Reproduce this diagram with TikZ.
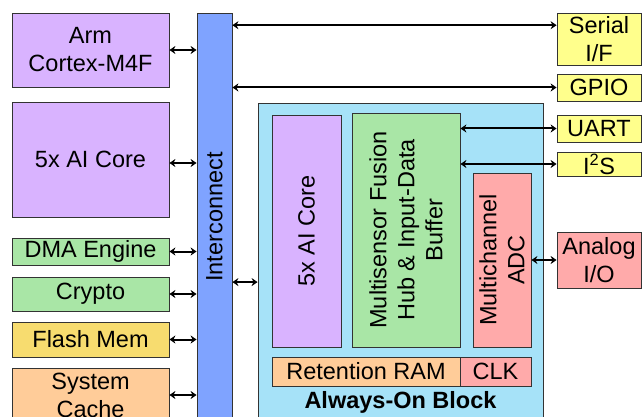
\documentclass[tikz,border=0pt]{standalone}
\usepackage{fontspec}
\setmainfont{Liberation Sans}
\usetikzlibrary{arrows.meta, positioning}
\definecolor{ChipPurple}{HTML}{D9B3FF}
\definecolor{ChipGreen}{HTML}{A9E6A6}
\definecolor{ChipGold}{HTML}{F7DC6F}
\definecolor{ChipOrange}{HTML}{FFCC99}
\definecolor{ChipBlue}{HTML}{7FA3FF}
\definecolor{ChipSky}{HTML}{A6E2F8}
\definecolor{ChipPink}{HTML}{FFAAAA}
\definecolor{ChipYellow}{HTML}{FFFF8C}
\definecolor{ChipDark}{HTML}{333333}

\begin{document}
\begin{tikzpicture}[
      x=1pt, y=-1pt,
      font=\fontsize{23.5}{28}\selectfont,
      block/.style={draw=ChipDark, line width=0.8pt, inner sep=0pt, align=center},
      vtext/.style={rotate=90, align=center, inner sep=0pt},
      flow/.style={{Stealth[length=6pt,width=8pt]}-{Stealth[length=6pt,width=8pt]}, line width=2pt},
    ]
      \clip (0,0) rectangle (642,417);

      % left column
      \node[block, fill=ChipPurple, minimum width=157, minimum height=74] (arm) at (90.5,50) {Arm\\Cortex-M4F};
      \node[block, fill=ChipPurple, minimum width=157, minimum height=115] (aicore) at (90.5,159.5) {5x AI Core};
      \node[block, fill=ChipGreen, minimum width=157, minimum height=27] (dma) at (90.5,251.5) {DMA Engine};
      \node[block, fill=ChipGreen, minimum width=157, minimum height=34] (crypto) at (90.5,294) {Crypto};
      \node[block, fill=ChipGold, minimum width=157, minimum height=35] (flash) at (90.5,339.5) {Flash Mem};
      \node[block, fill=ChipOrange, minimum width=157, minimum height=54] (cache) at (90.5,395) {System\\Cache};

      \node[block, fill=ChipBlue, minimum width=35, minimum height=408,
        label={[vtext]center:Interconnect}] (ic) at (214.5,217) {};

      % always-on block
      \node[block, fill=ChipSky, minimum width=285, minimum height=318] (aon) at (400.5,262) {};
      \node[block, fill=ChipPurple, minimum width=69, minimum height=232,
        label={[vtext]center:5x AI Core}] (aicoreaon) at (306.5,231) {};
      \node[block, fill=ChipGreen, minimum width=108, minimum height=234,
        label={[vtext]center:Multisensor Fusion\\Hub \& Input-Data\\Buffer}] (hub) at (406,230) {};
      \node[block, fill=ChipPink, minimum width=58, minimum height=174,
        label={[vtext]center:Multichannel\\ADC}] (adc) at (502,260) {};
      \node[block, fill=ChipOrange, minimum width=188, minimum height=29] (ram) at (366,371.5) {Retention RAM};
      \node[block, fill=ChipPink, minimum width=71, minimum height=29] (clk) at (495.5,371.5) {CLK};
      \node[font=\fontsize{23.5}{28}\selectfont\bfseries] (aonlabel) at (400.5,402) {Always-On Block};

      % right column
      \node[block, fill=ChipYellow, minimum width=84, minimum height=52] (serial) at (599,39) {Serial\\I/F};
      \node[block, fill=ChipYellow, minimum width=84, minimum height=27] (gpio) at (599,87.5) {GPIO};
      \node[block, fill=ChipYellow, minimum width=84, minimum height=27] (uart) at (599,128.5) {UART};
      \node[block, fill=ChipYellow, minimum width=84, minimum height=24] (i2s) at (599,164) {I\textsuperscript{2}S};
      \node[block, fill=ChipPink, minimum width=84, minimum height=56] (analog) at (599,260) {Analog\\I/O};

      \draw[flow] (arm.east) -- (arm.east -| ic.west);
      \draw[flow] ([yshift=-3.5pt]aicore.east) -- ([yshift=-3.5pt]aicore.east -| ic.west);
      \draw[flow] (dma.east) -- (dma.east -| ic.west);
      \draw[flow] (crypto.east) -- (crypto.east -| ic.west);
      \draw[flow] (flash.east) -- (flash.east -| ic.west);
      \draw[flow] (cache.east) -- (cache.east -| ic.west);

      \draw[flow] (ic.east |- serial.162) -- (serial.162);
      \draw[flow] (ic.east |- gpio) -- (gpio);
      \draw[flow] (ic.east |- aon.188) -- (aon.188);
      \draw[flow] (hub.east |- uart) -- (uart);
      \draw[flow] (hub.east |- i2s) -- (i2s);
      \draw[flow] (adc.east |- analog) -- (analog);
    \end{tikzpicture}
\end{document}
